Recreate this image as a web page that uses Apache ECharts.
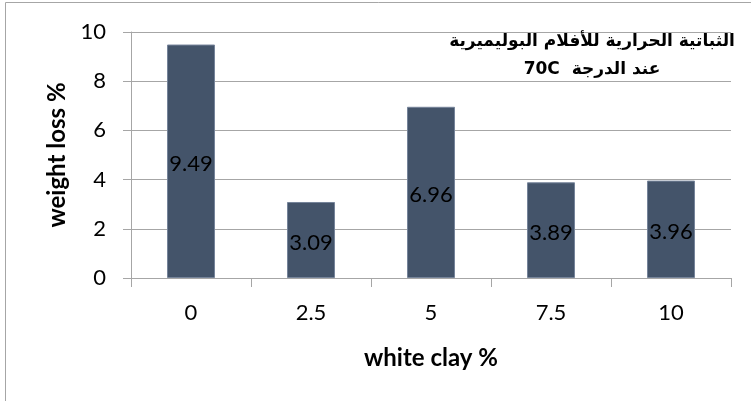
<!DOCTYPE html>
<html>
<head>
<meta charset="utf-8">
<script src="https://cdn.jsdelivr.net/npm/echarts@6/dist/echarts.min.js"></script>
<style>
  html, body { margin: 0; padding: 0; background: #fff; }
  #chart { width: 751px; height: 401px; }
</style>
</head>
<body>
<div id="chart"></div>
<script>
// White clay content (%) and the measured weight loss (%) at 70C
const clayContent = ['0', '2.5', '5', '7.5', '10'];
const weightLoss = [9.49, 3.09, 6.96, 3.89, 3.96];
const yTicks = { min: 0, max: 10, step: 2 };

const titleLines = [
  'الثباتية الحرارية للأفلام البوليميرية',
  '\u202Bعند الدرجة  70C\u202C'
];
const xAxisTitle = 'white clay %';
const yAxisTitle = 'weight loss %';

const labelFont = 'Lato, "Open Sans", sans-serif';
const gridColor = '#A6A6A6';

const chart = echarts.init(document.getElementById('chart'), null, { renderer: 'canvas' });

chart.setOption({
  backgroundColor: '#ffffff',
  animation: false,
  grid: { left: 131, right: 20, top: 32, bottom: 123, containLabel: false },
  graphic: [
    {
      type: 'rect',
      shape: { x: 5.5, y: 2.5, width: 800, height: 500 },
      style: { fill: 'none', stroke: '#A6A6A6', lineWidth: 1 },
      silent: true,
      z: -10
    },
    {
      type: 'text',
      x: 592,
      y: 28,
      style: {
        text: titleLines.join('\n'),
        align: 'center',
        verticalAlign: 'top',
        font: 'bold 17px "DejaVu Sans", sans-serif',
        lineHeight: 28,
        fill: '#000'
      },
      z: 100
    }
  ],
  xAxis: {
    type: 'category',
    data: clayContent,
    name: xAxisTitle,
    nameLocation: 'middle',
    nameGap: 68,
    nameTextStyle: { fontFamily: labelFont, fontWeight: 'bold', fontSize: 24, color: '#000' },
    axisLine: { show: true, lineStyle: { color: gridColor, width: 1 } },
    axisTick: { show: true, length: 9, alignWithLabel: false, lineStyle: { color: gridColor } },
    axisLabel: { fontFamily: labelFont, fontSize: 22, color: '#000', margin: 24 },
    splitLine: { show: false }
  },
  yAxis: {
    type: 'value',
    min: yTicks.min,
    max: yTicks.max,
    interval: yTicks.step,
    name: yAxisTitle,
    nameLocation: 'middle',
    nameRotate: 90,
    nameGap: 58,
    nameTextStyle: { fontFamily: labelFont, fontWeight: 'bold', fontSize: 24, color: '#000' },
    axisLine: { show: true, lineStyle: { color: gridColor, width: 1 } },
    axisTick: { show: true, length: 8, lineStyle: { color: gridColor } },
    axisLabel: { fontFamily: labelFont, fontSize: 22, color: '#000', margin: 25 },
    splitLine: { show: true, lineStyle: { color: gridColor, width: 1 } }
  },
  series: [
    {
      type: 'bar',
      data: weightLoss,
      barWidth: 48,
      itemStyle: { color: '#44546A', borderColor: '#76849A', borderWidth: 1 },
      label: {
        show: true,
        position: 'inside',
        offset: [0, 3],
        fontFamily: labelFont,
        fontSize: 22,
        color: '#000',
        formatter: p => p.value.toFixed(2)
      }
    }
  ]
});
</script>
</body>
</html>
